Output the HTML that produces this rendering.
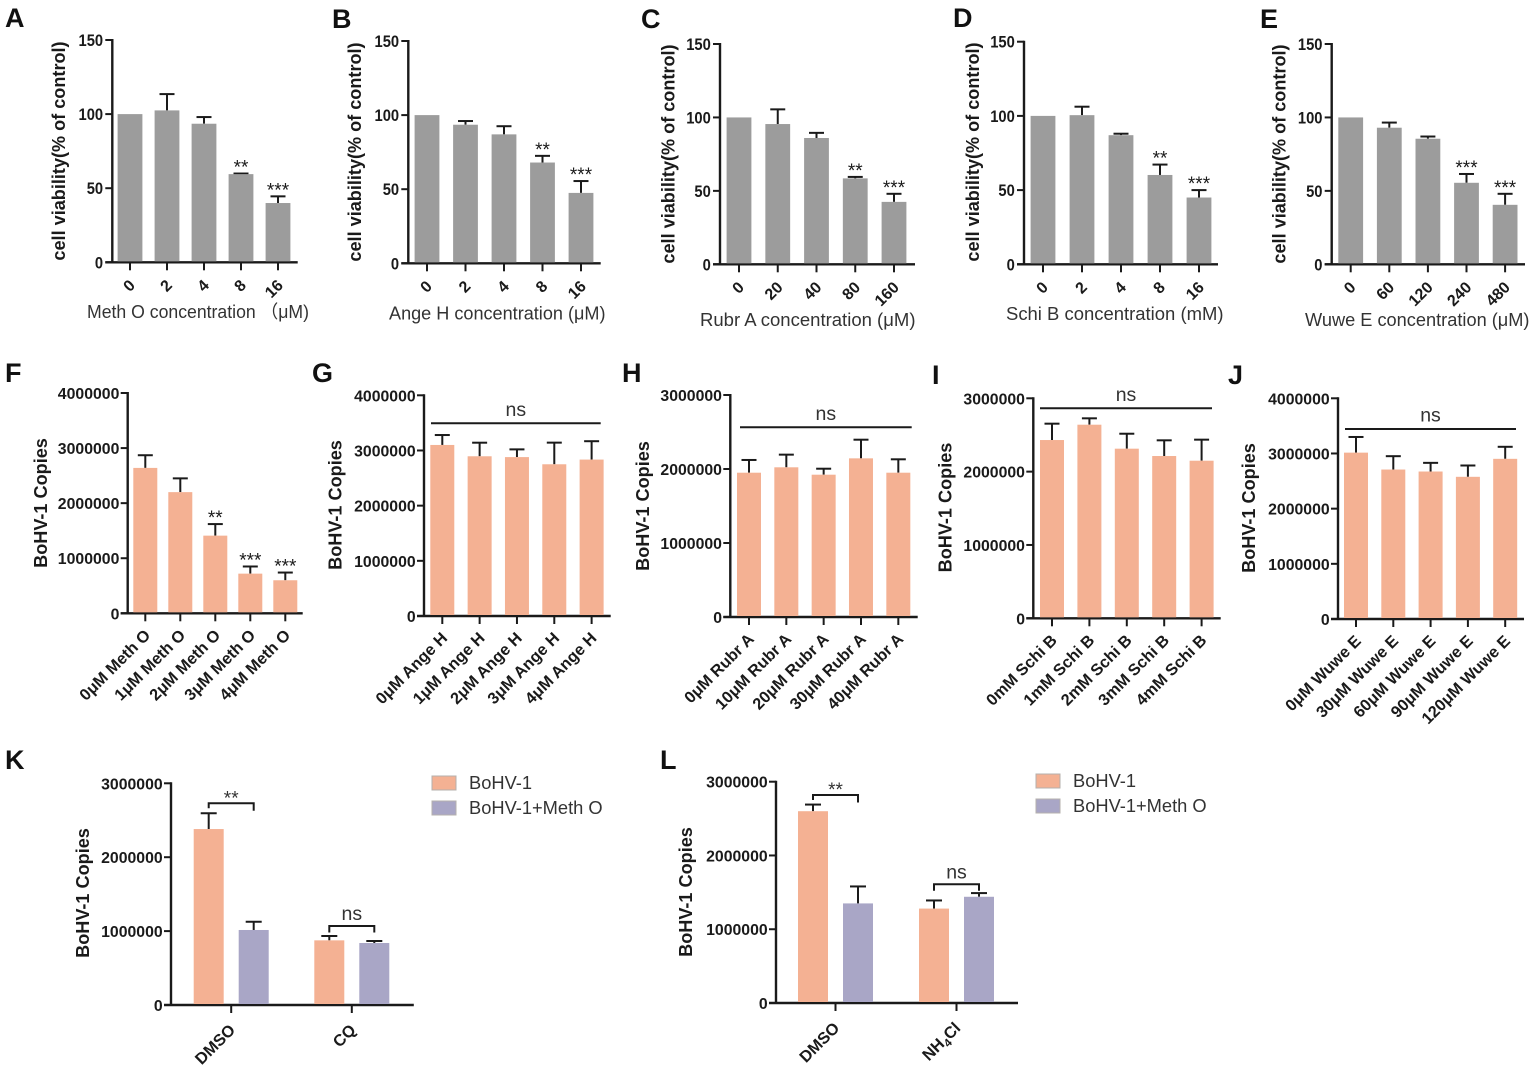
<!DOCTYPE html>
<html lang="en">
<head>
<meta charset="utf-8">
<title>Cell viability and BoHV-1 copies panels</title>
<style>
html,body{margin:0;padding:0;background:#fff;}
svg{display:block;font-family:"Liberation Sans","Noto Sans CJK SC",sans-serif;filter:blur(0.35px);}
</style>
</head>
<body>
<svg id="figure" xmlns="http://www.w3.org/2000/svg" width="1535" height="1069" viewBox="0 0 1535 1069">
  <rect width="1535" height="1069" fill="#fff"/>
</svg>
<script>
// ---- Data ----
const ticks150 = [0, 50, 100, 150];
const ticks4M = [0, 1000000, 2000000, 3000000, 4000000];
const ticks3M = [0, 1000000, 2000000, 3000000];

const aCategories = ['0', '2', '4', '8', '16'];
const aValues = [100, 102.5, 93.5, 59.5, 40];
const aErrors = [0, 11, 4.5, 0.4, 4.5];
const aSig = ['', '', '', '**', '***'];

const bCategories = ['0', '2', '4', '8', '16'];
const bValues = [100, 93.5, 87, 68, 47.5];
const bErrors = [0, 2.5, 5.5, 4.5, 8];
const bSig = ['', '', '', '**', '***'];

const cCategories = ['0', '20', '40', '80', '160'];
const cValues = [100, 95.5, 86, 58.5, 42.5];
const cErrors = [0, 10, 3.5, 1, 5.5];
const cSig = ['', '', '', '**', '***'];

const dCategories = ['0', '2', '4', '8', '16'];
const dValues = [100, 100.5, 87, 60.2, 45];
const dErrors = [0, 5.7, 1, 7, 5];
const dSig = ['', '', '', '**', '***'];

const eCategories = ['0', '60', '120', '240', '480'];
const eValues = [100, 93, 85.5, 55.5, 40.5];
const eErrors = [0, 3.5, 1.5, 6, 7.5];
const eSig = ['', '', '', '***', '***'];

const fCategories = ['0μM Meth O', '1μM Meth O', '2μM Meth O', '3μM Meth O', '4μM Meth O'];
const fValues = [2640000, 2200000, 1410000, 720000, 600000];
const fErrors = [230000, 250000, 210000, 130000, 140000];
const fSig = ['', '', '**', '***', '***'];

const gCategories = ['0μM Ange H', '1μM Ange H', '2μM Ange H', '3μM Ange H', '4μM Ange H'];
const gValues = [3100000, 2895000, 2880000, 2750000, 2835000];
const gErrors = [180000, 246000, 140000, 392000, 333000];

const hCategories = ['0μM Rubr A', '10μM Rubr A', '20μM Rubr A', '30μM Rubr A', '40μM Rubr A'];
const hValues = [1950000, 2023000, 1923000, 2144000, 1950000];
const hErrors = [172000, 171000, 81000, 252000, 181000];

const iCategories = ['0mM Schi B', '1mM Schi B', '2mM Schi B', '3mM Schi B', '4mM Schi B'];
const iValues = [2431000, 2640000, 2313000, 2213000, 2149000];
const iErrors = [223000, 87000, 204000, 214000, 287000];

const jCategories = ['0μM Wuwe E', '30μM Wuwe E', '60μM Wuwe E', '90μM Wuwe E', '120μM Wuwe E'];
const jValues = [3015000, 2709000, 2673000, 2577000, 2903000];
const jErrors = [284000, 242000, 157000, 205000, 218000];

const seriesNames = ['BoHV-1', 'BoHV-1+Meth O'];

const kGroups = ['DMSO', 'CQ'];
const kVirus = [2381000, 875000];
const kVirusErrors = [213000, 59000];
const kDrug = [1015000, 839000];
const kDrugErrors = [112000, 27000];
const kSig = ['**', 'ns'];

const lGroups = ['DMSO', 'NH4Cl'];
const lVirus = [2600000, 1280000];
const lVirusErrors = [90000, 110000];
const lDrug = [1350000, 1440000];
const lDrugErrors = [230000, 50000];
const lSig = ['**', 'ns'];

// ---- Styling ----
const INK = '#1a1a1a';
const GRAY = '#9c9c9c';
const SALMON = '#f4b193';
const PURPLE = '#a9a6c6';

const root = document.getElementById('figure');

function make(parent, tag, attrs, name) {
  const el = document.createElementNS('http://www.w3.org/2000/svg', tag);
  for (const k in attrs) el.setAttribute(k, attrs[k]);
  
  
  parent.appendChild(el);
  return el;
}

function line(parent, x1, y1, x2, y2, w, name) {
  return make(parent, 'line', {x1: x1, y1: y1, x2: x2, y2: y2, stroke: INK, 'stroke-width': w}, name);
}

function text(parent, str, x, y, attrs, name) {
  const el = make(parent, 'text', Object.assign({x: x, y: y, fill: INK}, attrs), name);
  el.textContent = str;
  return el;
}

function panelFrame(p, ticks) {
  const g = make(root, 'g', {}, 'panel-' + p.id.toLowerCase());
  text(g, p.id, p.letter[0], p.letter[1], {'font-size': 27, 'font-weight': 'bold', fill: '#111'}, 'panel-letter');
  const yMax = ticks[ticks.length - 1];
  const yScale = v => p.base - (v / yMax) * (p.base - p.top);
  line(g, p.axis, p.top - 1, p.axis, p.base + 1, 2.4, 'y-axis');
  line(g, p.axis - 7, p.base, p.end, p.base, 2.4, 'x-axis');
  ticks.forEach(t => {
    const str = String(t);
    line(g, p.axis - 7, yScale(t), p.axis, yScale(t), 2, 'y-tick');
    text(g, str, p.axis - p.yGap, yScale(t) + 6, {
      'font-size': p.yFont, 'font-weight': 'bold', 'text-anchor': 'end',
      textLength: str.length * p.digitW, lengthAdjust: 'spacingAndGlyphs'
    }, 'y-tick-label');
  });
  const ty = p.yTitle;
  text(g, p.yLabel, 0, 0, {
    'font-size': 18.1, 'font-weight': 'bold', 'text-anchor': 'middle',
    transform: 'translate(' + ty[0] + ' ' + ty[1] + ') rotate(-90)'
  }, 'y-axis-title');
  return {g: g, yScale: yScale};
}

function drawBar(g, cx, w, value, err, color, yScale, base, capW, name) {
  const top = yScale(value);
  if (err > 0) {
    const et = yScale(value + err);
    line(g, cx, top, cx, et, 2, name + '-error-stem');
    line(g, cx - capW / 2, et, cx + capW / 2, et, 2, name + '-error-cap');
  }
  make(g, 'rect', {x: cx - w / 2, y: top, width: w, height: base - top, fill: color}, name);
}

function barPanel(p, categories, values, errors, ticks, sig) {
  const f = panelFrame(p, ticks);
  const xScale = i => p.first + i * p.step;
  categories.forEach((c, i) => {
    const cx = xScale(i);
    drawBar(f.g, cx, p.barW, values[i], errors[i], p.color, f.yScale, p.base - 1, 15, 'bar-' + i);
    line(f.g, cx, p.base, cx, p.base + 8, 2, 'x-tick');
    text(f.g, c, 0, 0, {
      'font-size': p.tickFont, 'font-weight': p.tickWeight, 'text-anchor': 'end',
      transform: 'translate(' + (cx + p.labelDx) + ' ' + (p.base + p.labelDy) + ') rotate(-45)'
    }, 'x-tick-label');
    if (sig && sig[i]) {
      const et = f.yScale(values[i] + errors[i]);
      text(f.g, sig[i], cx, et, {'font-size': 19, 'text-anchor': 'middle'}, 'significance-mark');
    }
  });
  if (p.xLabel) {
    text(f.g, p.xLabel, p.xTitle[0], p.xTitle[1], {
      'font-size': 18.1, fill: '#333',
      textLength: p.xLen, lengthAdjust: 'spacingAndGlyphs'
    }, 'x-axis-title');
  }
  if (p.nsLine) {
    line(f.g, p.nsLine[0], p.nsLine[2], p.nsLine[1], p.nsLine[2], 2, 'ns-bracket');
    text(f.g, 'ns', (p.nsLine[0] + p.nsLine[1]) / 2, p.nsLine[2] - 7.5, {'font-size': 19.5, 'text-anchor': 'middle', fill: '#333'}, 'ns-label');
  }
}

function bracket(g, xa, xb, y, dropA, dropB, label, labelSize, labelDy) {
  const d = 'M' + xa + ' ' + (y + dropA) + 'V' + y + 'H' + xb + 'V' + (y + dropB);
  make(g, 'path', {d: d, fill: 'none', stroke: INK, 'stroke-width': 2}, 'significance-bracket');
  text(g, label, (xa + xb) / 2, y + labelDy, {'font-size': labelSize, 'text-anchor': 'middle', fill: '#333'}, 'significance-label');
}

function groupPanel(p, groups, s1, e1, s2, e2, ticks, sig) {
  const f = panelFrame(p, ticks);
  groups.forEach((gName, i) => {
    const c = p.first + i * p.step;
    const xa = c - p.offset, xb = c + p.offset;
    drawBar(f.g, xa, p.barW, s1[i], e1[i], SALMON, f.yScale, p.base - 1, 16, 'bar-virus-' + i);
    drawBar(f.g, xb, p.barW, s2[i], e2[i], PURPLE, f.yScale, p.base - 1, 16, 'bar-drug-' + i);
    line(f.g, c, p.base, c, p.base + 8, 2, 'x-tick');
    const lbl = text(f.g, '', 0, 0, {
      'font-size': 16.3, 'font-weight': 'bold', 'text-anchor': 'end',
      transform: 'translate(' + (c + p.labelDx) + ' ' + (p.base + p.labelDy) + ') rotate(-45)'
    }, 'x-tick-label');
    const m = gName.match(/^(NH)(4)(Cl)$/);
    if (m) {
      lbl.textContent = '';
      const a = make(lbl, 'tspan', {}, 'label-part');
      a.textContent = m[1];
      const b = make(lbl, 'tspan', {dy: 4, 'font-size': 11.5}, 'label-subscript');
      b.textContent = m[2];
      const d = make(lbl, 'tspan', {dy: -4}, 'label-part');
      d.textContent = m[3];
    } else {
      lbl.textContent = gName;
    }
    const by = p.brackets[i];
    if (sig[i] === 'ns') {
      bracket(f.g, xa, xb, by, 6.5, 6.5, 'ns', 19.5, -6);
    } else {
      bracket(f.g, xa, xb, by, 5, 7.5, sig[i], 19, 1);
    }
  });
  [SALMON, PURPLE].forEach((col, i) => {
    const ly = p.legend[1] + i * 25;
    make(f.g, 'rect', {x: p.legend[0], y: ly - 7, width: 24, height: 14, fill: col, stroke: '#b5b0ad', 'stroke-width': 1}, 'legend-swatch');
    text(f.g, seriesNames[i], p.legend[0] + 37, ly + 6, {'font-size': 18.3, fill: '#333'}, 'legend-entry');
  });
}

// ---- Top row: cell viability ----
const viabilityLabel = 'cell viability(% of control)';
const topStyle = {color: GRAY, barW: 24.8, tickFont: 16, tickWeight: 'bold', labelDx: 6, labelDy: 24, yLabel: viabilityLabel, yGap: 9.2, digitW: 8.2, yFont: 17};

barPanel(Object.assign({id: 'A', letter: [5, 27], axis: 112.3, base: 262.3, top: 40, end: 297.7, first: 130, step: 37, yTitle: [65, 151], xLabel: 'Meth O concentration （μM)', xTitle: [87, 318], xLen: 222}, topStyle), aCategories, aValues, aErrors, ticks150, aSig);
barPanel(Object.assign({id: 'B', letter: [332, 28], axis: 408.3, base: 263.3, top: 41, end: 600.7, first: 427, step: 38.5, yTitle: [361, 152], xLabel: 'Ange H concentration (μM)', xTitle: [389, 319.5], xLen: 216.5}, topStyle), bCategories, bValues, bErrors, ticks150, bSig);
barPanel(Object.assign({id: 'C', letter: [641, 28], axis: 720, base: 264.3, top: 44, end: 915, first: 739, step: 38.75, yTitle: [674.5, 154], xLabel: 'Rubr A concentration (μM)', xTitle: [700, 326], xLen: 215.5}, topStyle), cCategories, cValues, cErrors, ticks150, cSig);
barPanel(Object.assign({id: 'D', letter: [953, 27], axis: 1024, base: 264.3, top: 41.7, end: 1218, first: 1043, step: 39, yTitle: [979, 152], xLabel: 'Schi B concentration (mM)', xTitle: [1006, 320], xLen: 217.5}, topStyle), dCategories, dValues, dErrors, ticks150, dSig);
barPanel(Object.assign({id: 'E', letter: [1260, 28], axis: 1331.7, base: 264.3, top: 44, end: 1525, first: 1350.7, step: 38.6, yTitle: [1285.5, 154], xLabel: 'Wuwe E concentration (μM)', xTitle: [1305, 326], xLen: 224.5}, topStyle), eCategories, eValues, eErrors, ticks150, eSig);

// ---- Middle row: BoHV-1 copies ----
const copiesLabel = 'BoHV-1 Copies';
const midStyle = {color: SALMON, barW: 24, tickFont: 16.3, tickWeight: 'bold', labelDx: 6, labelDy: 23, yLabel: copiesLabel, yGap: 8.3, digitW: 8.8, yFont: 16};

barPanel(Object.assign({id: 'F', letter: [5, 382], axis: 127.7, base: 613.3, top: 393, end: 302.7, first: 145.3, step: 35, yTitle: [47, 503]}, midStyle), fCategories, fValues, fErrors, ticks4M, fSig);
barPanel(Object.assign({id: 'G', letter: [312, 382], axis: 424, base: 616, top: 395.3, end: 610.7, first: 442.3, step: 37.33, yTitle: [341.7, 505], nsLine: [431, 600.7, 423.3]}, midStyle), gCategories, gValues, gErrors, ticks4M);
barPanel(Object.assign({id: 'H', letter: [622, 382], axis: 730.3, base: 617, top: 395, end: 917.7, first: 749, step: 37.33, yTitle: [649, 506], nsLine: [740, 911.7, 427.3]}, midStyle), hCategories, hValues, hErrors, ticks3M);
barPanel(Object.assign({id: 'I', letter: [932, 384], axis: 1033.3, base: 618.3, top: 398.3, end: 1220.7, first: 1052, step: 37.4, yTitle: [951.7, 507.5], nsLine: [1040, 1212, 408.3]}, midStyle), iCategories, iValues, iErrors, ticks3M);
barPanel(Object.assign({id: 'J', letter: [1228, 384], axis: 1338, base: 619, top: 398.3, end: 1524, first: 1356, step: 37.3, yTitle: [1255, 508], nsLine: [1345, 1516, 429]}, midStyle), jCategories, jValues, jErrors, ticks4M);

// ---- Bottom row: grouped bars ----
groupPanel({id: 'K', letter: [5, 769], axis: 171, base: 1005, top: 783.3, end: 413.8, first: 231.2, step: 120.6, offset: 22.5, barW: 30, labelDx: 5, labelDy: 26, yLabel: copiesLabel, yTitle: [89, 893], brackets: [803.3, 926], legend: [432, 783], yGap: 8.3, digitW: 8.8, yFont: 16}, kGroups, kVirus, kVirusErrors, kDrug, kDrugErrors, ticks3M, kSig);
groupPanel({id: 'L', letter: [660, 769], axis: 776, base: 1003, top: 781.7, end: 1018, first: 835.5, step: 121, offset: 22.5, barW: 30, labelDx: 5, labelDy: 26, yLabel: copiesLabel, yTitle: [692, 892], brackets: [795, 884.3], legend: [1036, 781], yGap: 8.3, digitW: 8.8, yFont: 16}, lGroups, lVirus, lVirusErrors, lDrug, lDrugErrors, ticks3M, lSig);
</script>
</body>
</html>
